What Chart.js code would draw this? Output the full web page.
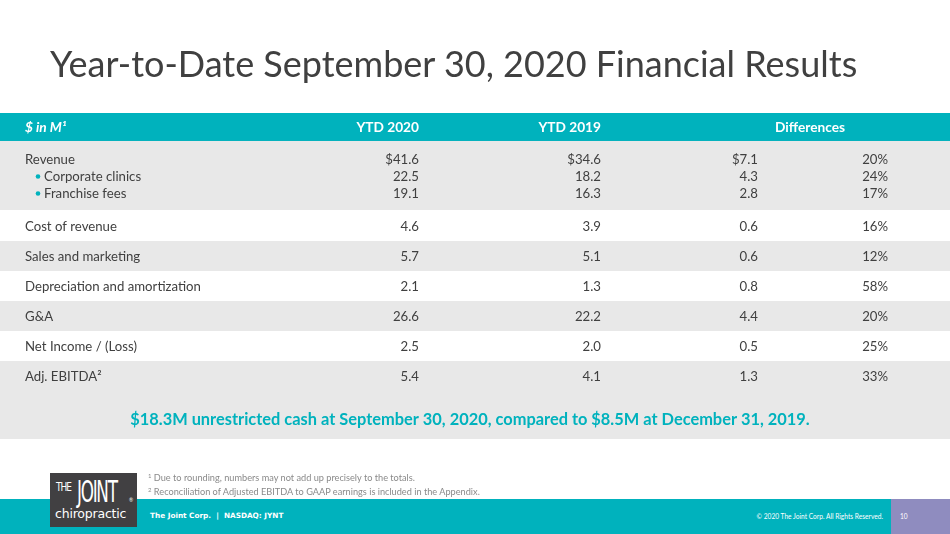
<!DOCTYPE html>
<html>
<head>
<meta charset="utf-8">
<script src="https://cdn.jsdelivr.net/npm/chart.js@4.4.1/dist/chart.umd.min.js"></script>
<style>
  html, body { margin: 0; padding: 0; background: #fff; }
  #slide { position: relative; width: 950px; height: 534px; overflow: hidden; font-family: Lato, "Open Sans", sans-serif; }
  #tabela { position: absolute; left: 0; top: 0; }
  .titulo { position: absolute; left: 50px; top: 41px; font-size: 36px; color: #404040; white-space: nowrap; }
  .rodape { position: absolute; left: 0; top: 499px; width: 891px; height: 35px; background: #00b2bd; }
  .rodape .empresa { position: absolute; left: 150px; top: 12px; font-family: "DejaVu Sans", sans-serif; font-weight: bold; font-size: 7.3px; color: #fff; white-space: nowrap; }
  .rodape .copy { position: absolute; right: 8px; top: 13px; font-size: 6.6px; color: #fff; white-space: nowrap; }
  .pagina { position: absolute; left: 891px; top: 499px; width: 59px; height: 35px; background: #8f8cbf; color: #fff; font-size: 6.6px; }
  .pagina span { position: absolute; left: 9px; top: 13px; }
  .notas { position: absolute; left: 148px; top: 471px; font-size: 9.2px; line-height: 13.5px; color: #8a8a8a; white-space: nowrap; z-index: 2; }
  .notas sup { font-size: 6px; line-height: 0; vertical-align: 3px; }
  .logo { position: absolute; left: 50px; top: 473px; width: 87px; height: 54px; background: #414042; color: #fff; z-index: 2; overflow: hidden; }
  .logo .the { position: absolute; left: 6px; top: 6px; font-family: "DejaVu Sans Condensed", sans-serif; font-size: 10px; letter-spacing: -1px; transform: scaleY(1.3); transform-origin: left top; }
  .logo .joint { position: absolute; left: 27px; top: 2px; font-family: "DejaVu Sans Condensed", sans-serif; font-size: 22px; font-weight: 200; letter-spacing: -1.5px; transform: scale(0.85, 1.35); transform-origin: left top; }
  .logo .reg { position: absolute; left: 79px; top: 24px; font-size: 5px; }
  .logo .chiro { position: absolute; left: 5px; top: 33px; font-family: "DejaVu Sans", sans-serif; font-size: 12.5px; letter-spacing: -0.2px; }
</style>
</head>
<body>
<div id="slide">
  <canvas id="tabela" width="950" height="534"></canvas>
  <div class="titulo">Year-to-Date September 30, 2020 Financial Results</div>
  <div class="rodape"><span class="empresa">The Joint Corp. &nbsp;|&nbsp; NASDAQ: JYNT</span><span class="copy">© 2020 The Joint Corp. All Rights Reserved.</span></div>
  <div class="pagina"><span>10</span></div>
  <div class="logo"><span class="the">THE</span><span class="joint">JOINT</span><span class="reg">®</span><span class="chiro">chiropractic</span></div>
  <div class="notas"><sup>1</sup> Due to rounding, numbers may not add up precisely to the totals.<br><sup>2</sup> Reconciliation of Adjusted EBITDA to GAAP earnings is included in the Appendix.</div>
</div>
<script>
// dados da tabela
const cabecalhos = ['$ in M¹', 'YTD 2020', 'YTD 2019', 'Differences'];
const linhas = ['Revenue', 'Corporate clinics', 'Franchise fees', 'Cost of revenue', 'Sales and marketing',
    'Depreciation and amortization', 'G&A', 'Net Income / (Loss)', 'Adj. EBITDA²'];
const ytd2020 = [41.6, 22.5, 19.1, 4.6, 5.7, 2.1, 26.6, 2.5, 5.4];
const ytd2019 = [34.6, 18.2, 16.3, 3.9, 5.1, 1.3, 22.2, 2.0, 4.1];
const difValor = [7.1, 4.3, 2.8, 0.6, 0.6, 0.8, 4.4, 0.5, 1.3];
const difPct = [20, 24, 17, 16, 12, 58, 20, 25, 33];
const subItens = [false, true, true, false, false, false, false, false, false];
const comCifrao = [true, false, false, false, false, false, false, false, false];
const destaque = '$18.3M unrestricted cash at September 30, 2020, compared to $8.5M at December 31, 2019.';

// layout (unidades de linha no eixo y, pixels no eixo x)
const posY = [1.533, 2.1, 2.667, 3.767, 4.767, 5.767, 6.767, 7.767, 8.767];
const posCabecalho = 0.467;
const posDestaque = 10.2;
const faixas = [
    { de: 0, ate: 0.933, cor: '#00b2bd' },
    { de: 0.933, ate: 3.233, cor: '#e8e8e8' },
    { de: 3.233, ate: 4.267, cor: '#ffffff' },
    { de: 4.267, ate: 5.267, cor: '#e8e8e8' },
    { de: 5.267, ate: 6.267, cor: '#ffffff' },
    { de: 6.267, ate: 7.267, cor: '#e8e8e8' },
    { de: 7.267, ate: 8.267, cor: '#ffffff' },
    { de: 8.267, ate: 10.867, cor: '#e8e8e8' },
];
const colX = { rotulo: 25, a2020: 419, a2019: 601, dif: 758, pct: 888, difCab: 810, destaque: 470 };

const TEAL = '#00b2bd';
const TEXTO = '#404040';
const FONTE = 'Lato, "Open Sans", sans-serif';

const fmt = (v, i) => (comCifrao[i] ? '$' : '') + v.toFixed(1);

function colunaDataset(nome, x, textos, alinhar, extra = {}) {
    return {
        label: nome,
        data: textos.map((t, i) => ({ x: x, y: posY[i] })),
        textos, alinhar, pointRadius: 0, ...extra
    };
}

const datasets = [
    colunaDataset('Rótulos', colX.rotulo, linhas, 'left', { recuo: subItens }),
    colunaDataset('YTD 2020', colX.a2020, ytd2020.map(fmt), 'right'),
    colunaDataset('YTD 2019', colX.a2019, ytd2019.map(fmt), 'right'),
    colunaDataset('Dif', colX.dif, difValor.map(fmt), 'right'),
    colunaDataset('Dif %', colX.pct, difPct.map(v => v + '%'), 'right'),
    {
        label: 'Cabeçalho',
        data: [colX.rotulo, colX.a2020, colX.a2019, colX.difCab].map(x => ({ x, y: posCabecalho })),
        textos: cabecalhos, alinhar: ['left', 'right', 'right', 'center'], cabecalho: true, pointRadius: 0
    },
    {
        label: 'Destaque',
        data: [{ x: colX.destaque, y: posDestaque }],
        textos: [destaque], alinhar: 'center', destaque: true, pointRadius: 0
    }
];

const faixasPlugin = {
    id: 'faixas',
    beforeDatasetsDraw(chart) {
        const { ctx, chartArea, scales } = chart;
        ctx.save();
        faixas.forEach(f => {
            const y1 = scales.y.getPixelForValue(f.de);
            const y2 = scales.y.getPixelForValue(f.ate);
            ctx.fillStyle = f.cor;
            ctx.fillRect(chartArea.left, y1, chartArea.right - chartArea.left, y2 - y1);
        });
        ctx.restore();
    }
};

const textoPlugin = {
    id: 'textoCelulas',
    afterDatasetsDraw(chart) {
        const ctx = chart.ctx;
        ctx.save();
        ctx.textBaseline = 'middle';
        chart.data.datasets.forEach((ds, di) => {
            const meta = chart.getDatasetMeta(di);
            meta.data.forEach((pt, i) => {
                let x = pt.x;
                const alinhar = Array.isArray(ds.alinhar) ? ds.alinhar[i] : ds.alinhar;
                if (ds.cabecalho) {
                    ctx.fillStyle = '#ffffff';
                    ctx.font = (i === 0 ? 'italic ' : '') + 'bold 13.7px ' + FONTE;
                } else if (ds.destaque) {
                    ctx.fillStyle = TEAL;
                    ctx.font = 'bold 16.4px ' + FONTE;
                } else {
                    ctx.fillStyle = TEXTO;
                    ctx.font = '13.2px ' + FONTE;
                }
                if (ds.recuo && ds.recuo[i]) {
                    ctx.fillStyle = TEAL;
                    ctx.beginPath();
                    ctx.arc(x + 13, pt.y + 0.5, 2.3, 0, Math.PI * 2);
                    ctx.fill();
                    ctx.fillStyle = TEXTO;
                    x += 19;
                }
                ctx.textAlign = alinhar;
                ctx.fillText(ds.textos[i], x, pt.y + 1);
            });
        });
        ctx.restore();
    }
};

new Chart(document.getElementById('tabela').getContext('2d'), {
    type: 'scatter',
    data: { datasets },
    options: {
        responsive: false, animation: false, devicePixelRatio: 1,
        layout: { padding: { top: 113, bottom: 95, left: 0, right: 0 } },
        plugins: { legend: { display: false }, tooltip: { enabled: false } },
        scales: {
            x: { type: 'linear', min: 0, max: 950, display: false },
            y: { type: 'linear', min: 0, max: 10.867, reverse: true, display: false }
        }
    },
    plugins: [faixasPlugin, textoPlugin]
});
</script>
</body>
</html>
